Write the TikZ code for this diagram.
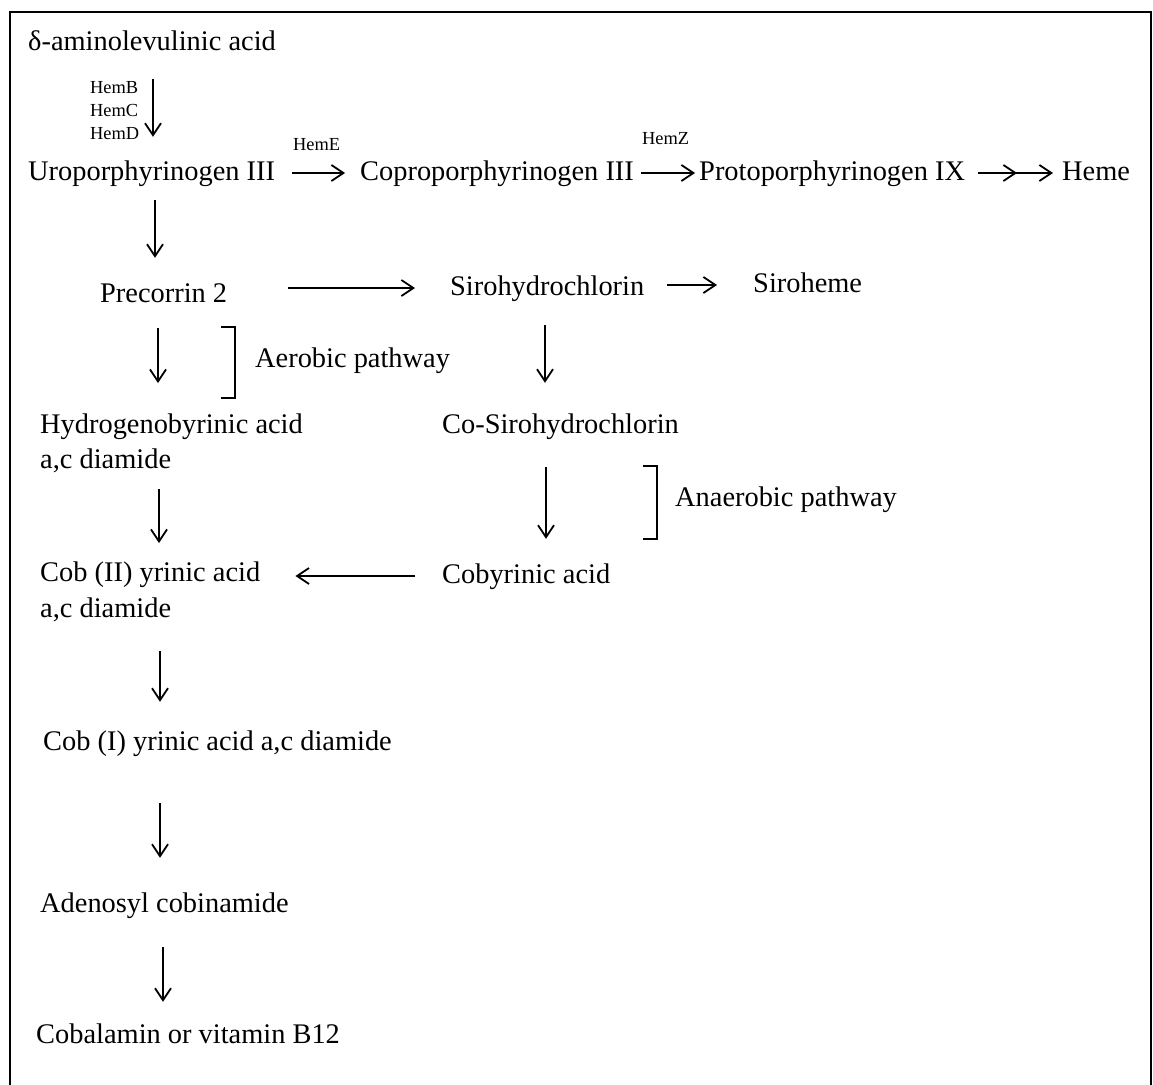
\documentclass[tikz,border=0pt]{standalone}
\usepackage{fontspec}
\setmainfont{Liberation Serif}
\usetikzlibrary{arrows.meta}

\tikzset{
	compound/.style={anchor=base west, inner sep=0pt, text height=20pt, text depth=6pt,
		font=\fontsize{28.4}{35}\selectfont},
	twoline/.style={anchor=north west, inner sep=0pt, align=left},
	enzyme/.style={anchor=base west, inner sep=0pt, font=\fontsize{18.4}{23}\selectfont},
	flow/.style={line width=1.8pt, -{Straight Barb[length=12pt,width=16pt]}},
	bracket/.style={line width=1.8pt},
}

\begin{document}
\begin{tikzpicture}[x=1pt, y=-1pt]
		\useasboundingbox (0,0) rectangle (1153,1084);
		\draw[line width=2.4pt] (10,1100) -- (10,12) -- (1151,12) -- (1151,1100);
		
		% heme branch
		\node[compound] (ala) at (28,50) {δ-aminolevulinic acid};
		\node[twoline, anchor=north west, font=\fontsize{18.4}{23}\selectfont] (hemBCD) at (90,80.8) {HemB\\HemC\\HemD};
		\node[compound] (uro) at (28,180) {Uroporphyrinogen III};
		\node[compound] (copro) at (360,180) {Coproporphyrinogen III};
		\node[compound] (proto) at (699,180) {Protoporphyrinogen IX};
		\node[compound] (heme) at (1062,180) {Heme};
		\node[enzyme] (hemE) at (293,150) {HemE};
		\node[enzyme] (hemZ) at (642,144) {HemZ};
		
		% siroheme branch
		\node[compound] (pre) at (100,302) {Precorrin 2};
		\node[compound] (siro) at (450,295) {Sirohydrochlorin};
		\node[compound] (sirohem) at (753,292) {Siroheme};
		\node[compound] (aer) at (255,367) {Aerobic pathway};
		\node[compound] (cosiro) at (442,433) {Co-Sirohydrochlorin};
		\node[compound] (anaer) at (675,506) {Anaerobic pathway};
		\node[compound] (cobyr) at (442,583) {Cobyrinic acid};
		
		% cobalamin branch
		\node[twoline, font=\fontsize{28.4}{35}\selectfont] (hyd) at (40,413.6) {Hydrogenobyrinic acid\\a,c diamide};
		\node[twoline, font=\fontsize{28.4}{36}\selectfont] (cobII) at (40,561.5) {Cob (II) yrinic acid\\a,c diamide};
		\node[compound] (cobI) at (43,750) {Cob (I) yrinic acid a,c diamide};
		\node[compound] (aden) at (40,912) {Adenosyl cobinamide};
		\node[compound] (cobal) at (36,1043) {Cobalamin or vitamin B12};
		
		\begin{scope}[flow]
			\draw[shorten <=23pt, shorten >=23pt] (ala.south -| 153,0) -- (uro.north -| 153,0);
			\draw[shorten <=14pt, shorten >=24pt] (uro.south -| 155,0) -- (pre.north -| 155,0);
			\draw[shorten <=20pt, shorten >=30.6pt] (pre.south -| 158,0) -- (hyd.north -| 158,0);
			\draw[shorten <=16pt, shorten >=18.5pt] (hyd.south -| 159,0) -- (cobII.north -| 159,0);
			\draw[shorten <=29pt, shorten >=28pt] (cobII.south -| 160,0) -- (cobI.north -| 160,0);
			\draw[shorten <=47pt, shorten >=34pt] (cobI.south -| 160,0) -- (aden.north -| 160,0);
			\draw[shorten <=29pt, shorten >=21pt] (aden.south -| 163,0) -- (cobal.north -| 163,0);
			\draw[shorten <=24pt, shorten >=30pt] (siro.south -| 545,0) -- (cosiro.north -| 545,0);
			\draw[shorten <=28pt, shorten >=24pt] (cosiro.south -| 546,0) -- (cobyr.north -| 546,0);
			
			\draw[shorten <=17pt, shorten >=15pt] (uro.east) -- (copro.west);
			\draw[shorten <=7pt, shorten >=4pt] (copro.east) -- (proto.west);
			\draw[shorten <=13pt, shorten >=9pt] (proto.east) -- (heme.west);
			\draw[shorten <=13pt, shorten >=45pt] (proto.east) -- (heme.west);
			\draw[shorten <=61pt, shorten >=35pt] (siro.west -| pre.east) -- (siro.west);
			\draw[shorten <=23pt, shorten >=36pt] (siro.east |- sirohem.west) -- (sirohem.west);
			\draw[shorten <=27pt, shorten >=35pt] (cobyr.west) -- (cobyr.west -| cobII.east);
		\end{scope}
		
		\draw[bracket] (221,327) -- (235,327) -- (235,398) -- (221,398);
		\draw[bracket] (643,466) -- (657,466) -- (657,539) -- (643,539);
	\end{tikzpicture}
\end{document}
